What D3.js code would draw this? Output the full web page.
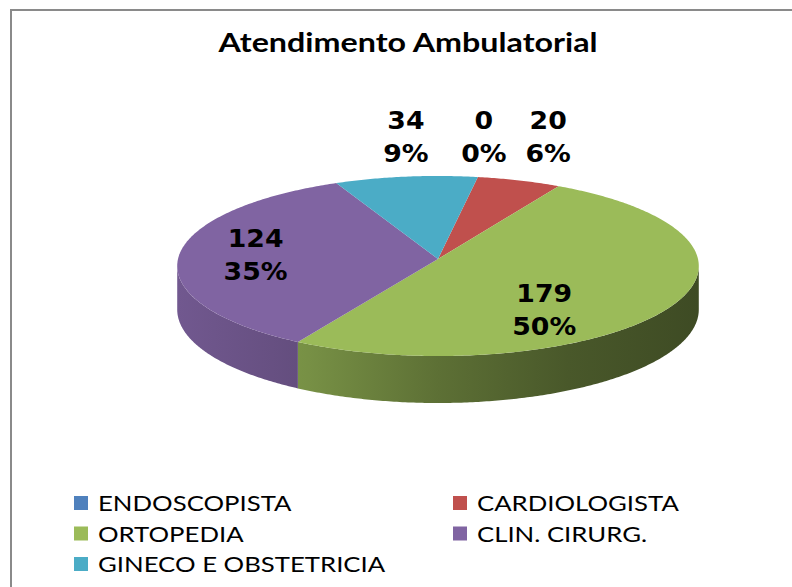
<!DOCTYPE html>
<html>
<head>
<meta charset="utf-8">
<script src="https://cdn.jsdelivr.net/npm/d3@7"></script>
<style>
  body { margin: 0; background: #fff; }
  svg { display: block; }
</style>
</head>
<body>
<div id="chart"></div>
<script>
// data
var categories = ["ENDOSCOPISTA", "CARDIOLOGISTA", "ORTOPEDIA", "CLIN. CIRURG.", "GINECO E OBSTETRICIA"];
var values = [0, 20, 179, 124, 34];
var percentLabels = ["0%", "6%", "50%", "35%", "9%"];
var colors = ["#4F81BD", "#C0504D", "#9BBB59", "#8064A2", "#4BACC6"];
var title = "Atendimento Ambulatorial";

var width = 792, height = 587;
// 3d pie projection: centre, half width, half height, perspective, thickness
var cx = 438, cy = 259, A = 260, B = 89.5, k = 0.0778, H = 43.3;
var rotation = 9.5 * Math.PI / 180;
var stretch = 1.17; // the original screenshot is a bit wide

var svg = d3.select("#chart")
    .append("svg")
    .attr("width", width)
    .attr("height", height);

// chart frame (runs off right/bottom like the screenshot)
svg.append("rect")
    .attr("x", 11)
    .attr("y", 10)
    .attr("width", 900)
    .attr("height", 700)
    .attr("fill", "#fff")
    .attr("stroke", "#8a8a8a")
    .attr("stroke-width", 2);

svg.append("text")
    .attr("class", "title")
    .text(title)
    .attr("transform", "translate(408,52) scale(1.24,1)")
    .attr("text-anchor", "middle")
    .attr("font-family", "Lato, 'Open Sans', sans-serif")
    .attr("font-weight", "bold")
    .attr("font-size", "26px")
    .attr("fill", "#000");

var pie = d3.pie()
    .sort(null)
    .startAngle(rotation)
    .endAngle(rotation + 2 * Math.PI)
    .value(function(d){ return d; });

var arcs = pie(values);

// project a point of the pie top (angle t clockwise from 12 o'clock, radius fraction f)
function proj(t, f){
    var z = 1 + k * f * Math.cos(t);
    return [cx + A * f * Math.sin(t) / z, cy - B * f * Math.cos(t) / z];
}
function projLow(t){
    var p = proj(t, 1);
    return [p[0], p[1] + H / (1 + k * Math.cos(t))];
}
function samples(t0, t1){
    var n = Math.max(2, Math.ceil((t1 - t0) / 0.01));
    return d3.range(n + 1).map(function(j){ return t0 + (t1 - t0) * j / n; });
}

var line = d3.line();

// shading for the side wall, light at left and dark at right
var defs = svg.append("defs");
function shade(c, m){
    var r = d3.rgb(c);
    return d3.rgb(r.r * m, r.g * m, r.b * m).formatHex();
}
colors.forEach(function(c, i){
    var g = defs.append("linearGradient")
        .attr("id", "side" + i)
        .attr("gradientUnits", "userSpaceOnUse")
        .attr("x1", cx - A).attr("x2", cx + A)
        .attr("y1", 0).attr("y2", 0);
    [[0, 0.88], [0.25, 0.77], [0.5, 0.6], [0.75, 0.47], [1, 0.4]].forEach(function(s){
        g.append("stop").attr("offset", s[0]).attr("stop-color", shade(c, s[1]));
    });
});

// front wall segments (angles facing the viewer)
var tc = Math.acos(-k);
var fronts = [[tc, 2 * Math.PI - tc], [tc + 2 * Math.PI, 4 * Math.PI - tc]];
var walls = [];
arcs.forEach(function(a, i){
    fronts.forEach(function(fr){
        var t0 = Math.max(a.startAngle, fr[0]);
        var t1 = Math.min(a.endAngle, fr[1]);
        if (t1 > t0) walls.push({i: i, t0: t0, t1: t1});
    });
});

svg.append("g").attr("class", "walls")
    .selectAll("path")
    .data(walls)
    .enter()
    .append("path")
    .attr("d", function(w){
        var ts = samples(w.t0, w.t1);
        var pts = ts.map(function(t){ return proj(t, 1); })
            .concat(ts.slice().reverse().map(projLow));
        return line(pts) + "Z";
    })
    .attr("fill", function(w){ return "url(#side" + w.i + ")"; });

// top faces
svg.append("g").attr("class", "tops")
    .selectAll("path")
    .data(arcs)
    .enter()
    .append("path")
    .attr("d", function(a){
        var pts = [proj(0, 0)].concat(samples(a.startAngle, a.endAngle).map(function(t){ return proj(t, 1); }));
        return line(pts) + "Z";
    })
    .attr("fill", function(d, i){ return colors[i]; });

// data labels
var total = d3.sum(values);
var labelNudge = [[6, 0], [29, 0], [-44, 22], [-14, 0], [0, 0]];
var labels = arcs.map(function(a, i){
    var mid = (a.startAngle + a.endAngle) / 2;
    var inside = a.value / total >= 0.1;
    var p;
    if (inside) {
        p = proj(mid, 0.65);
        p[1] -= 9;
    } else {
        p = [proj(mid, 1)[0], proj(0, 1)[1] - 47];
    }
    return {x: p[0] + labelNudge[i][0], y: p[1] + labelNudge[i][1], v: values[i], p: percentLabels[i]};
});

var lab = svg.append("g").attr("class", "labels")
    .selectAll("text")
    .data(labels)
    .enter()
    .append("text")
    .attr("transform", function(d){ return "translate(" + d.x + "," + d.y + ") scale(1.07,1)"; })
    .attr("text-anchor", "middle")
    .attr("font-family", "'DejaVu Sans', Verdana, sans-serif")
    .attr("font-weight", "bold")
    .attr("font-size", "25px")
    .attr("fill", "#000");
lab.append("tspan")
    .attr("x", 0)
    .attr("y", 0)
    .text(function(d){ return d.v; });
lab.append("tspan")
    .attr("x", 0)
    .attr("y", 33)
    .text(function(d){ return d.p; });

// legend, two columns
var legX = d3.scalePoint().domain([0, 1]).range([74, 453]);
var legY = d3.scalePoint().domain([0, 1, 2]).range([503, 564]);
var leg = svg.append("g").attr("class", "legend")
    .selectAll("g")
    .data(categories)
    .enter()
    .append("g")
    .attr("transform", function(d, i){
        return "translate(" + legX(i % 2) + "," + legY(Math.floor(i / 2)) + ")";
    });
leg.append("rect")
    .attr("x", 0)
    .attr("y", -7)
    .attr("width", 14)
    .attr("height", 14)
    .attr("fill", function(d, i){ return colors[i]; });
leg.append("text")
    .attr("transform", "translate(24,8) scale(" + stretch + ",1)")
    .text(function(d){ return d; })
    .attr("font-family", "Lato, 'Open Sans', sans-serif")
    .attr("font-size", "22px")
    .attr("fill", "#000");
</script>
</body>
</html>
